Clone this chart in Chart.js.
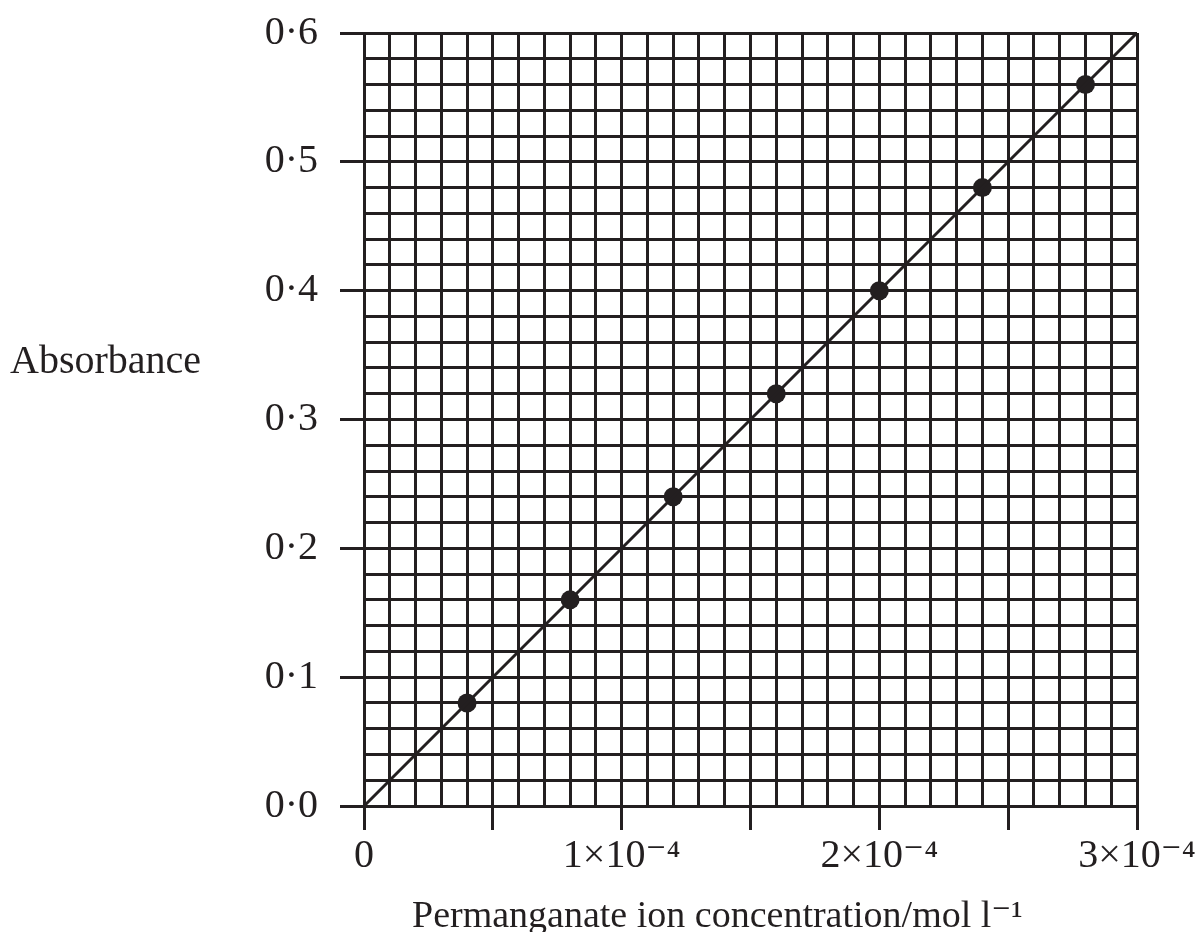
<!DOCTYPE html>
<html>
<head>
<meta charset="utf-8">
<script src="https://cdn.jsdelivr.net/npm/chart.js@4"></script>
<style>
    body { margin: 0; background: #ffffff; }
    #chart-wrap { width: 1200px; height: 932px; position: relative; }
</style>
</head>
<body>
<div id="chart-wrap"><canvas id="absorbance-chart"></canvas></div>
<script>
    // ------------------- Data ------------------
    const concentration = [0.00004, 0.00008, 0.00012, 0.00016, 0.00020, 0.00024, 0.00028];
    const absorbance = [0.08, 0.16, 0.24, 0.32, 0.40, 0.48, 0.56];
    const fitLineX = [0, 0.0003];
    const fitLineY = [0, 0.6];
    const xTickLabels = ['0', '1×10⁻⁴', '2×10⁻⁴', '3×10⁻⁴'];
    const yTickLabels = ['0·0', '0·1', '0·2', '0·3', '0·4', '0·5', '0·6'];
    const xTitle = 'Permanganate ion concentration/mol l⁻¹';
    const yTitle = 'Absorbance';

    const ink = '#231f20';
    const serif = '"Liberation Serif", "DejaVu Serif", serif';

    function absorbanceChart() {
        const data = {
            datasets: [{
                data: fitLineX.map((x, i) => ({ x: x, y: fitLineY[i] })),
                showLine: true,
                borderColor: ink,
                borderWidth: 3,
                pointRadius: 0
            }, {
                data: concentration.map((x, i) => ({ x: x, y: absorbance[i] })),
                showLine: false,
                backgroundColor: ink,
                borderColor: ink,
                pointRadius: 9.5,
                borderWidth: 0
            }]
        };

        // ------------------- Axis titles (horizontal y title) ------------------
        const axisTitles = {
            id: 'axisTitles',
            afterDraw(chart) {
                const ctx = chart.ctx;
                ctx.save();
                ctx.fillStyle = ink;
                ctx.textAlign = 'left';
                ctx.textBaseline = 'alphabetic';
                ctx.font = '40px ' + serif;
                ctx.fillText(yTitle, 10, 373);
                ctx.font = '38px ' + serif;
                ctx.fillText(xTitle, 412, 927);
                ctx.restore();
            }
        };

        // ------------------- Chart Options ------------------
        const chartOptions = {
            responsive: true,
            maintainAspectRatio: false,
            animation: false,
            layout: {
                padding: { left: 0, right: 63, top: 33, bottom: 0 }
            },
            plugins: {
                legend: { display: false },
                tooltip: { enabled: false }
            },
            scales: {
                x: {
                    type: 'linear',
                    min: 0,
                    max: 0.0003,
                    afterFit(scale) {
                        scale.height = 126;
                        scale.paddingLeft = 0;
                        scale.paddingRight = 0;
                    },
                    border: { display: false },
                    grid: {
                        color: ink,
                        lineWidth: 3,
                        tickLength: 24,
                        tickWidth: 3,
                        tickColor: (c) => Math.round(c.tick.value * 1e5) % 5 === 0 ? ink : 'rgba(0,0,0,0)'
                    },
                    ticks: {
                        stepSize: 0.00001,
                        autoSkip: false,
                        maxRotation: 0,
                        padding: 2,
                        color: ink,
                        font: { family: serif, size: 40 },
                        callback: (v) => {
                            const k = Math.round(v * 1e5);
                            return k % 10 === 0 ? xTickLabels[k / 10] : '';
                        }
                    }
                },
                y: {
                    min: 0,
                    max: 0.6,
                    afterFit(scale) {
                        scale.width = 364;
                        scale.paddingTop = 0;
                        scale.paddingBottom = 0;
                    },
                    border: { display: false },
                    grid: {
                        color: ink,
                        lineWidth: 3,
                        tickLength: 24,
                        tickWidth: 3,
                        tickColor: (c) => Math.round(c.tick.value * 50) % 5 === 0 ? ink : 'rgba(0,0,0,0)'
                    },
                    ticks: {
                        stepSize: 0.02,
                        autoSkip: false,
                        padding: 22,
                        color: ink,
                        font: { family: serif, size: 40 },
                        callback: (v) => {
                            const k = Math.round(v * 50);
                            return k % 5 === 0 ? yTickLabels[k / 5] : '';
                        }
                    }
                }
            }
        };

        // ------------------- Chart Config ------------------
        const config = {
            type: 'scatter',
            data: data,
            options: chartOptions,
            plugins: [axisTitles]
        };

        // ------------------- Initialize Chart ------------------
        const myChart = new Chart(
            document.getElementById('absorbance-chart'),
            config
        );
    }

    absorbanceChart();
</script>
</body>
</html>
